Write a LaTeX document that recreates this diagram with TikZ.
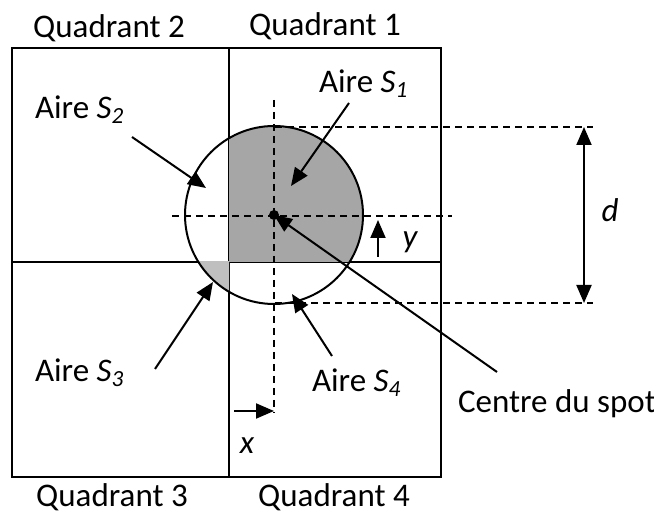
\documentclass[tikz,border=0pt]{standalone}
\usepackage{fontspec}
\setmainfont{Carlito}
\usepackage{tikz}
\usetikzlibrary{arrows.meta}

\begin{document}
\begin{tikzpicture}[x=0.5pt, y=-0.5pt, line width=1pt,
	every node/.style={font=\fontsize{16.5}{19}\selectfont, inner sep=0pt},
	pointer/.style={-{Triangle[length=9pt, width=7.5pt]}},
	guide/.style={dashed, dash pattern=on 3.5pt off 2.5pt}]
	\useasboundingbox (0,0) rectangle (654,513);
	% quadrants
	\draw (12,48) rectangle (441,477);
	\draw (229,48) -- (229,477);
	\draw (12,262) -- (441,262);
	% spot
	\coordinate (c) at (274,215);
	\begin{scope}
		\clip (229,262) rectangle (441,48);
		\fill[black!35] (c) circle (89);
	\end{scope}
	\begin{scope}
		\clip (229,262) rectangle (12,477);
		\fill[black!25] (c) circle (89);
	\end{scope}
	\draw (c) circle (89);
	\fill (c) circle (5);
	% dashed guides
	\draw[guide] (274,100) -- (274,413);
	\draw[guide] (172,216) -- (452,216);
	\draw[guide] (275,127) -- (593,127);
	\draw[guide] (275,303) -- (593,303);
	% dimensions
	\coordinate (dtop) at (584,127);
	\coordinate (dbot) at (584,303);
	\draw[{Triangle[length=9pt, width=7.5pt]}-{Triangle[length=9pt, width=7.5pt]}] (dtop) -- (dbot);
	\node (d) at (610,210) {\itshape d};
	\coordinate (yfrom) at (378,257);
	\coordinate (yto) at (378,220);
	\draw[pointer] (yfrom) -- (yto);
	\node (y) at (410,242) {\itshape y};
	\coordinate (xfrom) at (234,411);
	\coordinate (xto) at (274,411);
	\draw[pointer] (xfrom) -- (xto);
	\node (x) at (247,446) {\itshape x};
	% labels
	\node (q2) at (109,28) {Quadrant 2};
	\node (q1) at (325,26) {Quadrant 1};
	\node (q3) at (112,497) {Quadrant 3};
	\node (q4) at (334,497) {Quadrant 4};
	\node[anchor=west] (s2) at (34,110) {Aire {\itshape S\textsubscript{2}}};
	\node[anchor=west] (s1) at (318,84) {Aire {\itshape S\textsubscript{1}}};
	\node[anchor=west] (s3) at (34,373) {Aire {\itshape S\textsubscript{3}}};
	\node[anchor=west] (s4) at (311,383) {Aire {\itshape S\textsubscript{4}}};
	\node[anchor=west] (spot) at (457,404) {Centre du spot};
	% pointers
	\coordinate (s2a) at (132,137);
	\coordinate (s2b) at (206,188);
	\coordinate (s1a) at (349,103);
	\coordinate (s1b) at (291,186);
	\coordinate (s3a) at (155,369);
	\coordinate (s3b) at (213,282);
	\coordinate (s4a) at (332,356);
	\coordinate (s4b) at (292,294);
	\coordinate (spota) at (497,372);
	\draw[pointer] (s2a) -- (s2b);
	\draw[pointer] (s1a) -- (s1b);
	\draw[pointer] (s3a) -- (s3b);
	\draw[pointer] (s4a) -- (s4b);
	\draw[pointer] (spota) -- (c);
\end{tikzpicture}
\end{document}
